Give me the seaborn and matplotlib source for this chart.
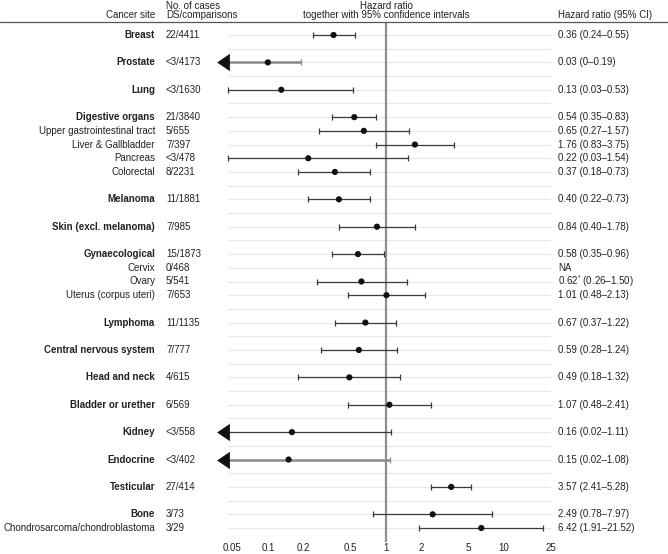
import numpy as np
import pandas as pd
import matplotlib
matplotlib.use("Agg")
import matplotlib.pyplot as plt
from matplotlib.lines import Line2D
from matplotlib.transforms import blended_transform_factory
import seaborn as sns

# ---------------- data ----------------
sites = ["Breast", "Prostate", "Lung", "Digestive organs", "Upper gastrointestinal tract",
         "Liver & Gallbladder", "Pancreas", "Colorectal", "Melanoma", "Skin (excl. melanoma)",
         "Gynaecological", "Cervix", "Ovary", "Uterus (corpus uteri)", "Lymphoma",
         "Central nervous system", "Head and neck", "Bladder or urether", "Kidney",
         "Endocrine", "Testicular", "Bone", "Chondrosarcoma/chondroblastoma"]
is_main = [1, 1, 1, 1, 0, 0, 0, 0, 1, 1, 1, 0, 0, 0, 1, 1, 1, 1, 1, 1, 1, 1, 0]
cases = ["22/4411", "<3/4173", "<3/1630", "21/3840", "5/655", "7/397", "<3/478", "8/2231",
         "11/1881", "7/985", "15/1873", "0/468", "5/541", "7/653", "11/1135", "7/777",
         "4/615", "6/569", "<3/558", "<3/402", "27/414", "3/73", "3/29"]
hr_point = [0.36, 0.10, 0.13, 0.54, 0.65, 1.76, 0.22, 0.37, 0.40, 0.84, 0.58, np.nan, 0.62,
            1.01, 0.67, 0.59, 0.49, 1.07, 0.16, 0.15, 3.57, 2.49, 6.42]
ci_lo = [0.24, 0.0, 0.03, 0.35, 0.27, 0.83, 0.03, 0.18, 0.22, 0.40, 0.35, np.nan, 0.26,
         0.48, 0.37, 0.28, 0.18, 0.48, 0.02, 0.02, 2.41, 0.78, 1.91]
ci_hi = [0.55, 0.19, 0.53, 0.83, 1.57, 3.75, 1.54, 0.73, 0.73, 1.78, 0.96, np.nan, 1.50,
         2.13, 1.22, 1.24, 1.32, 2.41, 1.11, 1.08, 5.28, 7.97, 21.52]
hr_text = ["0.36 (0.24\u20130.55)", "0.03 (0\u20130.19)", "0.13 (0.03\u20130.53)",
           "0.54 (0.35\u20130.83)", "0.65 (0.27\u20131.57)", "1.76 (0.83\u20133.75)",
           "0.22 (0.03\u20131.54)", "0.37 (0.18\u20130.73)", "0.40 (0.22\u20130.73)",
           "0.84 (0.40\u20131.78)", "0.58 (0.35\u20130.96)", "NA",
           "0.62$^{*}$ (0.26\u20131.50)", "1.01 (0.48\u20132.13)", "0.67 (0.37\u20131.22)",
           "0.59 (0.28\u20131.24)", "0.49 (0.18\u20131.32)", "1.07 (0.48\u20132.41)",
           "0.16 (0.02\u20131.11)", "0.15 (0.02\u20131.08)", "3.57 (2.41\u20135.28)",
           "2.49 (0.78\u20137.97)", "6.42 (1.91\u201321.52)"]
x_ticks = [0.05, 0.1, 0.2, 0.5, 1, 2, 5, 10, 25]
x_tick_labels = ["0.05", "0.1", "0.2", "0.5", "1", "2", "5", "10", "25"]

# ---------------- layout ----------------
sns.set_theme(style="white")
plt.rcParams["font.family"] = ["Liberation Sans", "DejaVu Sans"]
plt.rcParams["mathtext.fontset"] = "custom"
plt.rcParams["mathtext.rm"] = "Liberation Sans"
plt.rcParams["mathtext.it"] = "Liberation Sans"
FS = 7.05
TXT = "#222222"

# row positions: blank row before each main category (except first)
rows = []
r = -2
for i, m in enumerate(is_main):
    r += 2 if (m and i > 0) else (1 if i > 0 else 2)
    rows.append(r)
n_rows = rows[-1] + 1

df = pd.DataFrame({"site": sites, "row": rows, "hr": hr_point, "lo": ci_lo, "hi": ci_hi})

W, H = 668, 554
fig = plt.figure(figsize=(W / 100, H / 100), dpi=100)
xl, xr = 0.046, 25
ax_left, ax_right = 228 / W, 551 / W
ax_top, ax_bot = 1 - 22 / H, 1 - 542 / H
ax = fig.add_axes([ax_left, ax_bot, ax_right - ax_left, ax_top - ax_bot])
ax.set_xscale("log")
ax.set_xlim(xl, xr)
row_px = (528 - 35) / 36.0
ax.set_ylim(36 + (542 - 528) / row_px, -(35 - 22) / row_px)
for s in ax.spines.values():
    s.set_visible(False)

# gridlines at every row
ax.hlines(np.arange(n_rows), xl, xr, color="#e6e6e6", lw=0.8, zorder=0)
# reference line
ax.axvline(1, color="#8f8f8f", lw=1.6, zorder=1)

ARROW_T = 0.025
tri = [(-0.7, 0.0), (0.7, 0.95), (0.7, -0.95), (-0.7, 0.0)]
for _, d in df.iterrows():
    if np.isnan(d.hr):
        continue
    emph = d.site in ("Prostate", "Endocrine")
    col = "#8a8a8a" if emph else "#3a3a3a"
    lw = 1.8 if emph else 0.9
    arrow = d.lo < ARROW_T
    lo = max(d.lo, xl)
    ax.hlines(d.row, lo, d.hi, color=col, lw=lw, zorder=2, clip_on=False)
    ax.plot([d.hi], [d.row], marker="|", ms=4.2, mew=0.9, color=col, zorder=2)
    if arrow:
        ax.plot([10 ** (np.log10(xl) - 0.04)], [d.row], marker=tri, ms=12.5,
                color="#111111", mew=0, zorder=3, clip_on=False)
    else:
        ax.plot([lo], [d.row], marker="|", ms=4.2, mew=0.9, color=col, zorder=2,
                clip_on=False)

sns.scatterplot(data=df.dropna(subset=["hr"]), x="hr", y="row", ax=ax, color="#111111",
                s=20, edgecolor="none", zorder=4, legend=False)

ax.set_xticks(x_ticks)
ax.set_xticklabels(x_tick_labels)
ax.minorticks_off()
ax.tick_params(axis="x", length=0, pad=0.8, labelsize=FS, colors=TXT)
ax.set_yticks([])
ax.set_xlabel("")
ax.set_ylabel("")

# text columns
tr = blended_transform_factory(fig.transFigure, ax.transData)
x_site, x_case, x_hr = 155 / W, 166 / W, 558 / W
for s, m, c, t, rr in zip(sites, is_main, cases, hr_text, rows):
    ax.text(x_site, rr, s, transform=tr, ha="right", va="center", fontsize=FS,
            fontweight="bold" if m else "normal", color=TXT)
    ax.text(x_case, rr, c, transform=tr, ha="left", va="center", fontsize=FS, color=TXT)
    ax.text(x_hr, rr, t, transform=tr, ha="left", va="center", fontsize=FS, color=TXT)

# header
y1, y2 = 1 - 6 / H, 1 - 15 / H
fig.text(x_site, y2, "Cancer site", ha="right", va="center", fontsize=FS, color=TXT)
fig.text(x_case, y1, "No. of cases", ha="left", va="center", fontsize=FS, color=TXT)
fig.text(x_case, y2, "DS/comparisons", ha="left", va="center", fontsize=FS, color=TXT)
fig.text(386 / W, y1, "Hazard ratio", ha="center", va="center", fontsize=FS, color=TXT)
fig.text(386 / W, y2, "together with 95% confidence intervals", ha="center", va="center",
         fontsize=FS, color=TXT)
fig.text(x_hr, y2, "Hazard ratio (95% CI)", ha="left", va="center", fontsize=FS, color=TXT)
fig.add_artist(Line2D([0, 1], [ax_top, ax_top], transform=fig.transFigure,
                      color="#555555", lw=0.9))

fig.savefig("out.png", dpi=100)
